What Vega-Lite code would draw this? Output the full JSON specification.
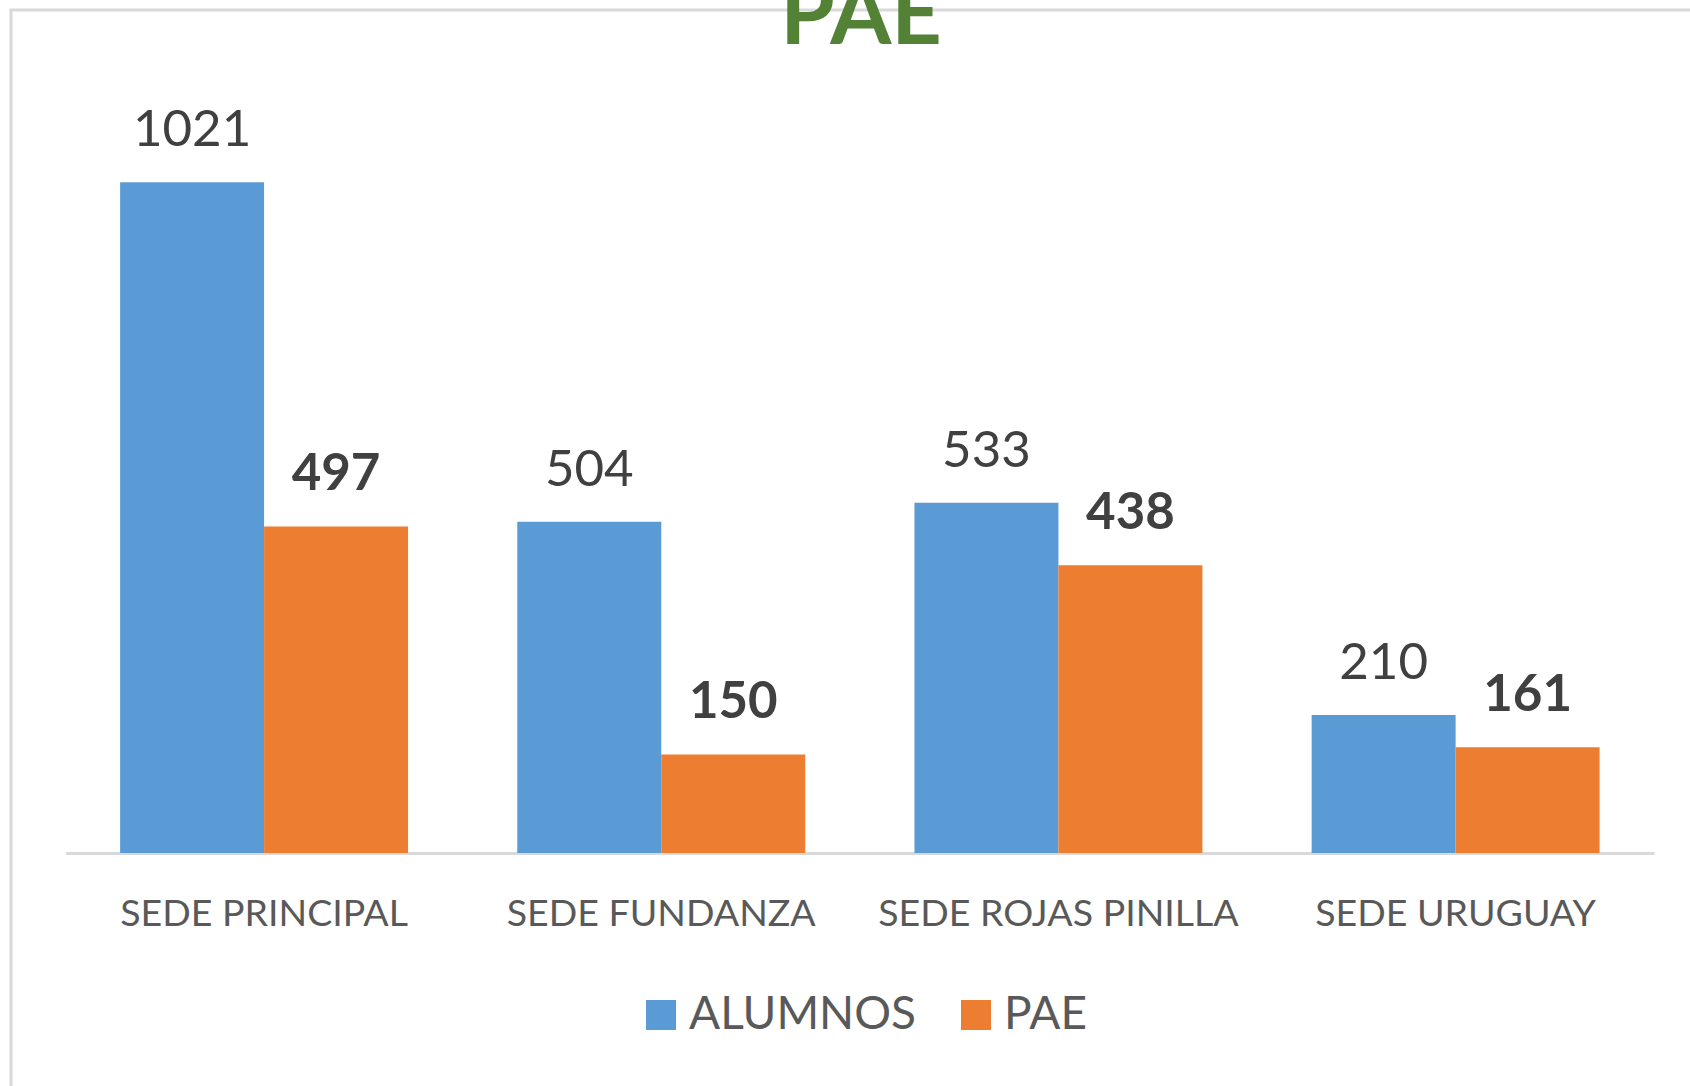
{
  "$schema": "https://vega.github.io/schema/vega-lite/v6.json",
  "autosize": {"type": "none"},
  "padding": {"left": 11, "top": 10, "right": 0, "bottom": 0},
  "width": 1700,
  "height": 1100,
  "background": "#ffffff",
  "title": {
    "text": "PAE",
    "font": "Lato",
    "fontSize": 88,
    "fontWeight": "bold",
    "color": "#538135",
    "anchor": "middle",
    "baseline": "alphabetic",
    "offset": -122
  },
  "data": {
    "values": [
      {"sede": "SEDE PRINCIPAL", "serie": "ALUMNOS", "valor": 1021},
      {"sede": "SEDE PRINCIPAL", "serie": "PAE", "valor": 497},
      {"sede": "SEDE FUNDANZA", "serie": "ALUMNOS", "valor": 504},
      {"sede": "SEDE FUNDANZA", "serie": "PAE", "valor": 150},
      {"sede": "SEDE ROJAS PINILLA", "serie": "ALUMNOS", "valor": 533},
      {"sede": "SEDE ROJAS PINILLA", "serie": "PAE", "valor": 438},
      {"sede": "SEDE URUGUAY", "serie": "ALUMNOS", "valor": 210},
      {"sede": "SEDE URUGUAY", "serie": "PAE", "valor": 161}
    ]
  },
  "encoding": {
    "x": {
      "field": "sede",
      "type": "nominal",
      "sort": null,
      "title": null,
      "scale": {"range": [54.7, 1643], "paddingInner": 0.275, "paddingOuter": 0.137},
      "axis": {
        "offset": -257,
        "ticks": false,
        "labelAngle": 0,
        "labelFont": "Lato",
        "labelFontSize": 37.5,
        "labelColor": "#595959",
        "labelBaseline": "alphabetic",
        "labelPadding": 72,
        "labelLimit": 0,
        "domainColor": "#d9d9d9",
        "domainWidth": 3,
        "grid": false
      }
    },
    "xOffset": {"field": "serie", "type": "nominal", "sort": ["ALUMNOS", "PAE"], "scale": {"paddingInner": 0, "paddingOuter": 0}},
    "y": {
      "field": "valor",
      "type": "quantitative",
      "scale": {"domain": [0, 1283], "range": [843, 0], "nice": false, "zero": true},
      "axis": null
    }
  },
  "layer": [
    {
      "mark": {"type": "bar"},
      "encoding": {
        "color": {
          "field": "serie",
          "type": "nominal",
          "scale": {"domain": ["ALUMNOS", "PAE"], "range": ["#5B9BD5", "#ED7D31"]},
          "legend": {
            "title": null,
            "orient": "none",
            "direction": "horizontal",
            "legendX": 627,
            "legendY": 982,
            "symbolType": "square",
            "symbolSize": 900,
            "symbolStrokeWidth": 0,
            "symbolOpacity": 1,
            "labelFont": "Lato",
            "labelFontSize": 46,
            "labelColor": "#595959",
            "labelOffset": 5,
            "labelLimit": 0,
            "columnPadding": 36
          }
        }
      }
    },
    {
      "transform": [{"filter": "datum.serie === 'ALUMNOS'"}],
      "mark": {"type": "text", "font": "Lato", "fontSize": 51, "color": "#404040", "baseline": "alphabetic", "dy": -36},
      "encoding": {"text": {"field": "valor", "type": "quantitative"}}
    },
    {
      "transform": [{"filter": "datum.serie === 'PAE'"}],
      "mark": {"type": "text", "font": "Lato", "fontSize": 51, "fontWeight": "bold", "color": "#404040", "baseline": "alphabetic", "dy": -36},
      "encoding": {"text": {"field": "valor", "type": "quantitative"}}
    }
  ],
  "config": {
    "view": {"stroke": "#d9d9d9", "strokeWidth": 3}
  }
}
